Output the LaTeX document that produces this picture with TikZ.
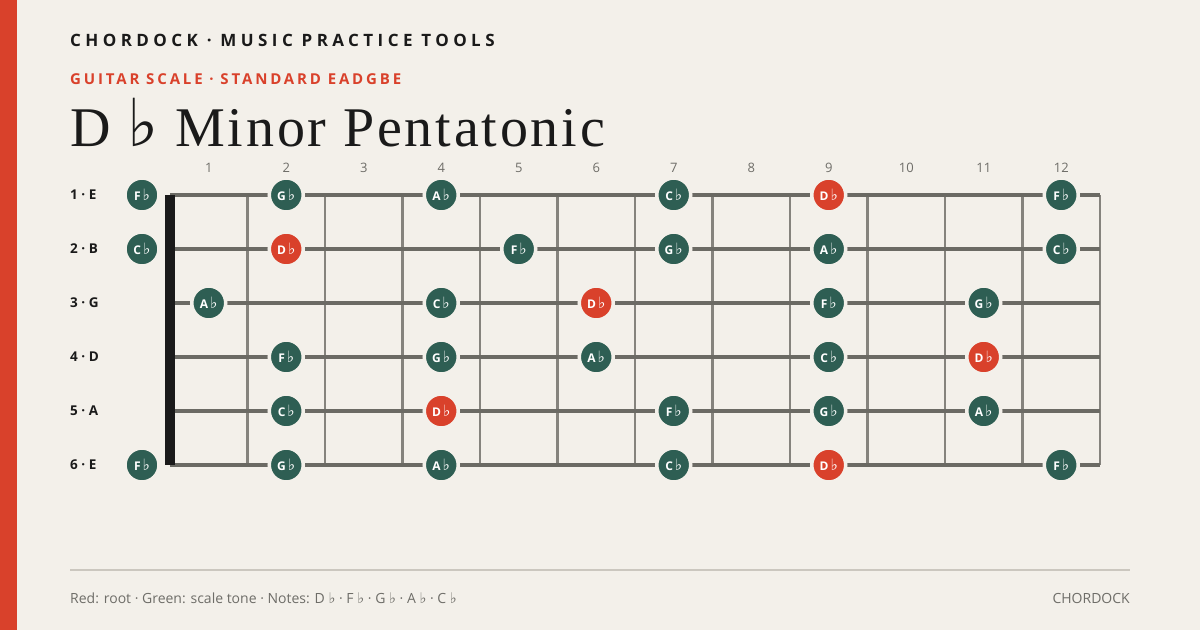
\documentclass[tikz,border=0pt]{standalone}
\usepackage{fontspec}
\setmainfont{Open Sans}
\newfontfamily\titlefont[LetterSpace=5]{Liberation Serif}
\newfontfamily\symfont{DejaVu Sans}
\newfontfamily\capsfont[LetterSpace=26]{Open Sans}
\newfontfamily\subfont[LetterSpace=19]{Open Sans}
\newcommand{\flt}{\scalebox{1.3}{\symfont\mdseries\char"266D}}
\newcommand{\smallflt}{\scalebox{1.05}{\symfont\mdseries\char"266D}}
\newcommand{\bigflt}{\scalebox{1.18}{\symfont\mdseries\char"266D}}

\definecolor{paper}{HTML}{F3F0EA}
\definecolor{accent}{HTML}{D9412B}
\definecolor{pine}{HTML}{2E5E53}
\definecolor{ink}{HTML}{1A1A1A}
\definecolor{wire}{HTML}{6B6A64}
\definecolor{fretgray}{HTML}{85837D}
\definecolor{rulegray}{HTML}{CBC7BF}
\definecolor{muted}{HTML}{6E6D68}

\tikzset{
  tone/.style={circle, fill=pine, draw=paper, line width=3.5pt, minimum size=34pt,
    inner sep=0pt, text=white, font=\bfseries\fontsize{12}{12}\selectfont},
  root/.style={tone, fill=accent},
  stringline/.style={wire, line width=3.5pt},
  fretline/.style={fretgray, line width=2.5pt},
  fretnum/.style={muted, font=\fontsize{13}{13}\selectfont},
  stringname/.style={anchor=west, inner sep=0pt, ink, font=\bfseries\fontsize{13.5}{13.5}\selectfont},
}

\begin{document}
\begin{tikzpicture}[x=1pt, y=-1pt]
    % Page
    \fill[paper] (0,0) rectangle (1200,630);
    \useasboundingbox (0,0) rectangle (1200,630);
    \fill[accent] (0,0) rectangle (17,630);

    % Heading
    \node[anchor=base west, inner sep=0pt, ink] (brand) at (70,46)
      {\capsfont\bfseries\fontsize{17}{17}\selectfont CHORDOCK · MUSIC PRACTICE TOOLS};
    \node[anchor=base west, inner sep=0pt, accent] (kind) at (70,84)
      {\subfont\bfseries\fontsize{15}{15}\selectfont GUITAR SCALE · STANDARD EADGBE};
    \node[anchor=base west, inner sep=0pt, ink] (title) at (70,146)
      {\titlefont\fontsize{56}{56}\selectfont D \bigflt{} Minor Pentatonic};

    % Frets
    \foreach \f in {1,...,12} {
      \node[fretnum] (num\f) at ({170+(\f-0.5)*77.5},168) {\f};
      \coordinate (f\f t) at ({170+77.5*\f},195);
      \coordinate (f\f b) at ({170+77.5*\f},465);
      \draw[fretline] (f\f t) -- (f\f b);
    }

    % Strings
    \foreach \s/\n in {1/E,2/B,3/G,4/D,5/A,6/E} {
      \node[stringname] (name\s) at (70,{195+54*(\s-1)}) {\s\ · \n};
      \coordinate (s\s a) at (170,{195+54*(\s-1)});
      \coordinate (s\s b) at (1100,{195+54*(\s-1)});
      \draw[stringline] (s\s a) -- (s\s b);
    }

    % Nut
    \fill[ink] (165,195) rectangle (175,465);

    % Notes
    \foreach \s/\f/\n/\k in {
        1/0/F/tone, 1/2/G/tone, 1/4/A/tone, 1/7/C/tone, 1/9/D/root, 1/12/F/tone,
        2/0/C/tone, 2/2/D/root, 2/5/F/tone, 2/7/G/tone, 2/9/A/tone, 2/12/C/tone,
        3/1/A/tone, 3/4/C/tone, 3/6/D/root, 3/9/F/tone, 3/11/G/tone,
        4/2/F/tone, 4/4/G/tone, 4/6/A/tone, 4/9/C/tone, 4/11/D/root,
        5/2/C/tone, 5/4/D/root, 5/7/F/tone, 5/9/G/tone, 5/11/A/tone,
        6/0/F/tone, 6/2/G/tone, 6/4/A/tone, 6/7/C/tone, 6/9/D/root, 6/12/F/tone} {
      \node[\k] (n\s-\f) at ({\f==0 ? 142 : 170+(\f-0.5)*77.5},{195+54*(\s-1)}) {\n\,\flt};
    }

    % Footer
    \coordinate (ruleL) at (70,570);
    \coordinate (ruleR) at (1130,570);
    \draw[rulegray, line width=2pt] (ruleL) -- (ruleR);
    \node[anchor=base west, inner sep=0pt, muted, font=\fontsize{14}{14}\selectfont] (legend) at (70,603)
      {Red: root · Green: scale tone · Notes: D \smallflt{} · F \smallflt{} · G \smallflt{} · A \smallflt{} · C \smallflt};
    \node[anchor=base east, inner sep=0pt, muted, font=\fontsize{14}{14}\selectfont] (site) at (1130,603) {CHORDOCK};
\end{tikzpicture}
\end{document}
